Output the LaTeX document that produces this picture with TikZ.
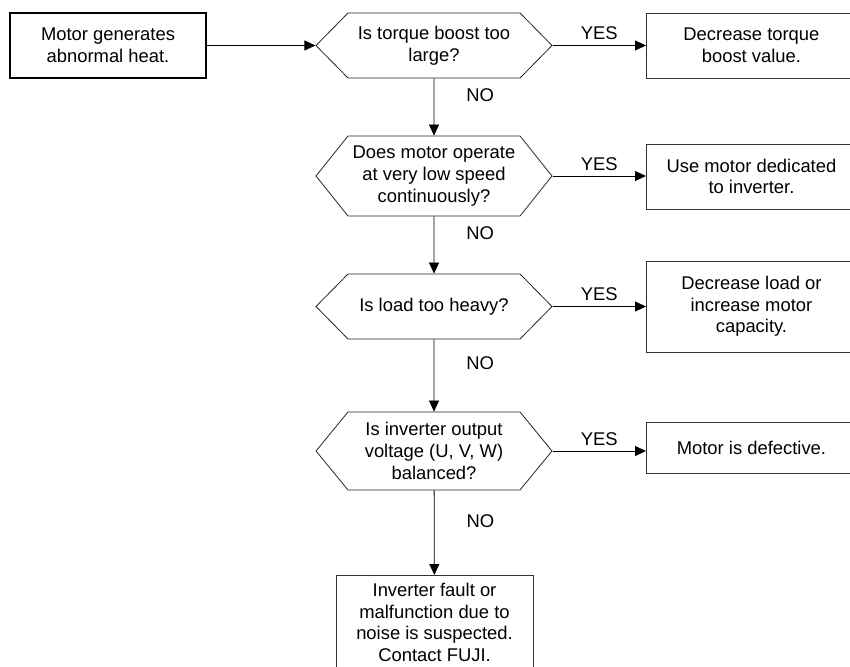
\documentclass[tikz,border=0pt]{standalone}
\usepackage{fontspec}
\setmainfont{Liberation Sans}
\usepackage{tikz}
\usetikzlibrary{arrows.meta,positioning,shapes.symbols}

\begin{document}
\begin{tikzpicture}[
  x=1pt,y=-1pt,font=\fontsize{18.4pt}{21.6pt}\selectfont,
  box/.style={draw=black,line width=1.2pt,align=center,inner sep=3pt,
              minimum width=196pt,minimum height=65pt},
  ans/.style={draw=black!80,line width=0.9pt,align=center,inner sep=3pt,
              minimum width=210pt,anchor=west},
  qst/.style={draw=black!85,line width=0.8pt,align=center,inner sep=0pt,
              shape=signal,signal to=west and east,minimum width=236pt},
  ar/.style={-{Triangle[length=11pt,width=10pt]},draw=black,line width=0.8pt},
  lbl/.style={inner sep=0pt}
]
\useasboundingbox (0,0) rectangle (850,666);

% ---- inicio
\node[box] (st) at (108,45.5) {Motor generates\\ abnormal heat.};

% ---- perguntas
\node[qst,minimum height=65pt,signal pointer angle=90.9]  (q1) at (434,45.5)
  {Is torque boost too\\ large?};
\node[qst,minimum height=80pt,signal pointer angle=102.7] (q2) at (434,176)
  {Does motor operate\\ at very low speed\\ continuously?};
\node[qst,minimum height=65pt,signal pointer angle=90.9]  (q3) at (434,306.5)
  {Is load too heavy?};
\node[qst,minimum height=78pt,signal pointer angle=101.3] (q4) at (434,451)
  {Is inverter output\\ voltage (U, V, W)\\ balanced?};

% ---- respostas
\node[ans,minimum height=65pt] (a1) at (646,45.5)  {Decrease torque\\ boost value.};
\node[ans,minimum height=65pt] (a2) at (646,176.5) {Use motor dedicated\\ to inverter.};
\node[ans,minimum height=91pt] (a3) at (646,306.5) {Decrease load or\\ increase motor\\ capacity.};
\node[ans,minimum height=51pt] (a4) at (646,447.5) {Motor is defective.};
\node[draw=black!80,line width=0.9pt,align=center,inner sep=8pt,minimum width=197pt,
      anchor=north] (fim) at (434.5,575)
  {Inverter fault or\\ malfunction due to\\ noise is suspected.\\ Contact FUJI.};

% ---- setas
\draw[ar] (st) -- (q1.west);
\draw[ar] (q1.east) -- (q1.east -| a1.west) node[lbl,midway,above=5pt] (y1) {YES};
\draw[ar] (q2.east) -- (q2.east -| a2.west) node[lbl,midway,above=5pt] (y2) {YES};
\draw[ar] (q3.east) -- (q3.east -| a3.west) node[lbl,midway,above=5pt] (y3) {YES};
\draw[ar] (q4.east) -- (q4.east -| a4.west) node[lbl,midway,above=5pt] (y4) {YES};
\draw[ar] (q1) -- (q2) node[lbl,midway,right=32pt,yshift=12pt] (n1) {NO};
\draw[ar] (q2) -- (q3) node[lbl,midway,right=32pt,yshift=12pt] (n2) {NO};
\draw[ar] (q3) -- (q4) node[lbl,midway,right=32pt,yshift=12pt] (n3) {NO};
\draw[ar] (q4) -- (fim) node[lbl,midway,right=32pt,yshift=12pt] (n4) {NO};
\end{tikzpicture}
\end{document}
